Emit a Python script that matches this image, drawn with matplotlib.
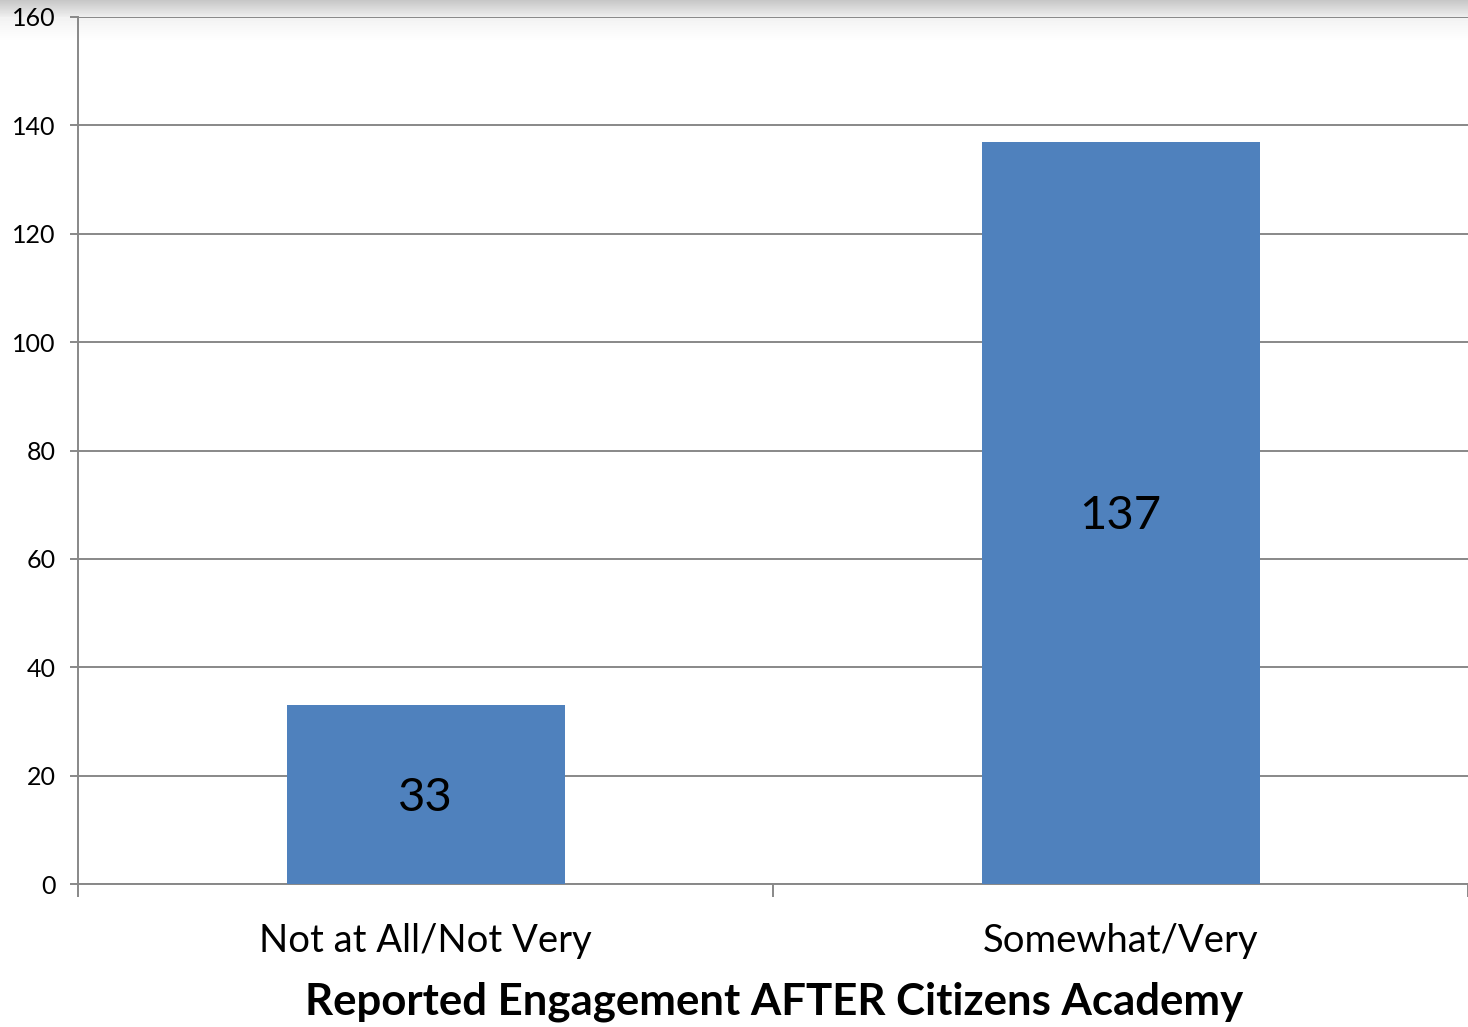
import matplotlib.pyplot as plt
import numpy as np

categories = ["Not at All/Not Very", "Somewhat/Very"]
counts = [33, 137]
yticks = [0, 20, 40, 60, 80, 100, 120, 140, 160]
xlabel = "Reported Engagement AFTER Citizens Academy"

plt.rcParams["font.family"] = ["Lato", "DejaVu Sans"]

fig = plt.figure(figsize=(14.68, 10.27), dpi=100)

# soft grey shading along the top edge
bg = fig.add_axes([0, 0, 1, 1], zorder=-1)
grad = np.ones((1027, 1))
grad[:17, 0] = np.linspace(0.78, 0.93, 17)
grad[17:42, 0] = np.linspace(0.95, 1.0, 25)
bg.imshow(grad, cmap="gray", vmin=0, vmax=1, aspect="auto", extent=[0, 1, 0, 1])
bg.axis("off")

ax = fig.add_axes([78 / 1468, 1 - 884 / 1027, 1 - 78 / 1468, (884 - 17) / 1027])
ax.patch.set_alpha(0)

x = np.arange(len(categories))
bars = ax.bar(x, counts, width=0.4, color="#4F81BD", zorder=3)
for b, v in zip(bars, counts):
    ax.text(b.get_x() + b.get_width() / 2, v / 2 - 0.6, str(v), ha="center", va="center",
            fontsize=34, color="black", zorder=4)

ax.set_xlim(-0.5, 1.5)
ax.set_ylim(0, 160)
ax.set_yticks(yticks)
ax.set_xticks(x)
ax.set_xticklabels(categories, fontsize=27.5)
ax.set_xticks([-0.5, 0.5, 1.5], minor=True)
ax.tick_params(axis="x", which="major", length=0, pad=28)
ax.tick_params(axis="x", which="minor", length=9, width=1.4, color="#888888")
ax.tick_params(axis="y", labelsize=18, length=6, width=1.4, color="#888888", pad=10)
ax.grid(axis="y", color="#888888", linewidth=1.4, zorder=0)
ax.set_axisbelow(True)

for s in ["top", "right"]:
    ax.spines[s].set_visible(False)
for s in ["left", "bottom"]:
    ax.spines[s].set_color("#888888")
    ax.spines[s].set_linewidth(1.4)

ax.set_xlabel(xlabel, fontsize=31.5, fontweight="bold", va="center")
ax.xaxis.set_label_coords((774 - 78) / 1390, -(1002 - 884) / 867)

fig.savefig("out.png", dpi=100)
